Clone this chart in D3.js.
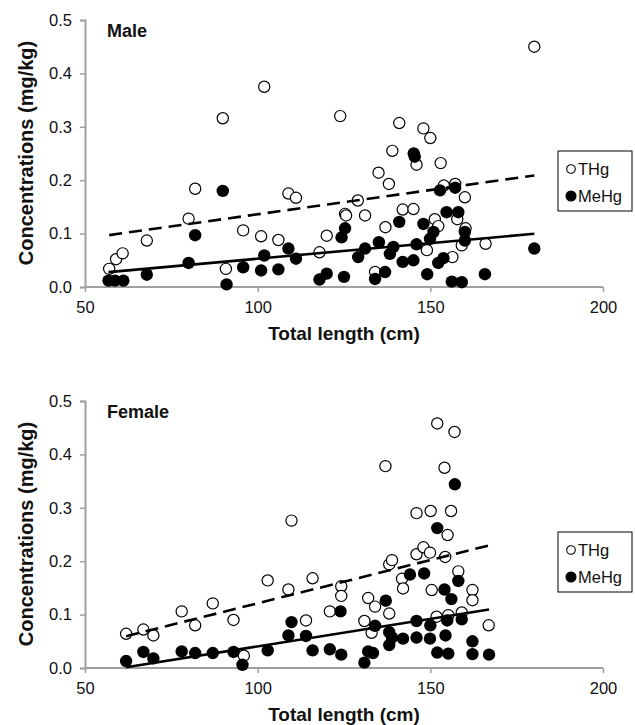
<!DOCTYPE html>
<html>
<head>
<meta charset="utf-8">
<script src="https://cdn.jsdelivr.net/npm/d3@7"></script>
<style>
  body { margin: 0; background: #fff; }
  svg text { font-family: "Liberation Sans", Arial, sans-serif; fill: #111; }
</style>
</head>
<body>
<svg width="635" height="725"></svg>
<script>
// [total length (cm), concentration (mg/kg)]
var maleTHg = [
  [57.0,0.034],[59.0,0.052],[60.9,0.063],[67.9,0.087],[80.0,0.128],[81.9,0.184],
  [89.9,0.316],[90.8,0.034],[95.8,0.106],[101.0,0.095],[101.9,0.375],[106.0,0.088],
  [108.9,0.175],[111.1,0.167],[117.9,0.065],[120.0,0.096],[123.9,0.320],[125.3,0.137],
  [125.6,0.134],[129.0,0.162],[131.1,0.134],[134.0,0.028],[135.0,0.214],[137.0,0.112],
  [138.0,0.193],[139.0,0.255],[141.0,0.307],[142.0,0.145],[145.1,0.146],[146.0,0.229],
  [148.0,0.297],[149.0,0.069],[150.0,0.279],[151.3,0.127],[152.3,0.114],[153.0,0.232],
  [153.9,0.190],[156.4,0.056],[157.2,0.193],[157.8,0.127],[159.1,0.078],[160.0,0.168],
  [160.2,0.110],[166.0,0.081],[180.1,0.450]
];
var maleMeHg = [
  [56.8,0.012],[58.7,0.012],[61.1,0.012],[67.9,0.023],[80.0,0.045],[81.9,0.097],
  [89.9,0.180],[91.0,0.005],[95.8,0.037],[101.0,0.031],[101.9,0.059],[106.0,0.033],
  [108.9,0.072],[111.1,0.053],[117.9,0.014],[120.0,0.025],[124.3,0.093],[125.0,0.019],
  [125.3,0.110],[129.1,0.056],[131.1,0.072],[134.0,0.015],[135.1,0.084],[136.9,0.028],
  [138.3,0.062],[139.3,0.075],[141.0,0.122],[142.0,0.047],[145.1,0.050],[145.2,0.250],
  [145.5,0.244],[146.0,0.080],[148.0,0.118],[149.1,0.024],[149.9,0.090],[150.9,0.103],
  [152.3,0.045],[152.8,0.181],[153.8,0.054],[154.7,0.140],[156.2,0.010],[157.2,0.186],
  [158.1,0.140],[159.1,0.009],[160.0,0.087],[160.0,0.103],[165.8,0.024],[180.1,0.072]
];
var femaleTHg = [
  [61.9,0.064],[66.9,0.072],[69.8,0.061],[78.0,0.106],[81.9,0.080],[87.0,0.121],
  [93.0,0.090],[96.0,0.023],[102.9,0.164],[108.9,0.147],[109.8,0.276],[114.0,0.089],
  [115.9,0.168],[120.9,0.106],[124.2,0.153],[124.2,0.135],[130.9,0.088],[132.0,0.131],
  [133.0,0.066],[134.0,0.115],[137.0,0.378],[138.1,0.102],[138.1,0.194],[138.9,0.202],
  [141.8,0.167],[142.1,0.149],[146.0,0.290],[146.0,0.213],[148.0,0.226],[149.9,0.216],
  [150.1,0.294],[150.4,0.146],[151.8,0.096],[152.0,0.458],[154.1,0.375],[154.3,0.208],
  [155.0,0.249],[155.2,0.099],[156.0,0.294],[157.0,0.442],[158.1,0.181],[159.1,0.104],
  [162.2,0.146],[162.2,0.127],[166.9,0.080]
];
var femaleMeHg = [
  [61.9,0.013],[66.9,0.030],[69.8,0.018],[78.0,0.031],[81.9,0.028],[87.0,0.028],
  [93.0,0.030],[95.6,0.006],[102.9,0.033],[108.9,0.061],[109.8,0.086],[114.0,0.060],
  [115.9,0.033],[120.9,0.035],[124.0,0.106],[124.2,0.025],[130.9,0.010],[132.0,0.031],
  [133.4,0.028],[134.0,0.079],[137.1,0.126],[138.1,0.043],[138.1,0.067],[138.9,0.057],
  [142.1,0.055],[144.1,0.175],[146.0,0.088],[146.0,0.057],[148.2,0.177],[150.0,0.080],
  [149.9,0.055],[152.0,0.262],[152.0,0.029],[154.1,0.147],[154.4,0.061],[154.9,0.089],
  [155.2,0.027],[156.1,0.129],[157.1,0.344],[158.1,0.163],[159.1,0.091],[162.2,0.050],
  [162.2,0.026],[167.0,0.025]
];

// linear trend lines: [slope, intercept]
var maleTHgFit = [0.000907, 0.0455];
var maleMeHgFit = [0.000583, -0.0053];
var femaleTHgFit = [0.001618, -0.0406];
var femaleMeHgFit = [0.00103, -0.0625];

var xTicks = [50, 100, 150, 200];
var yTicks = [0, 0.1, 0.2, 0.3, 0.4, 0.5];
var seriesNames = ["THg", "MeHg"];
var panelTitles = ["Male", "Female"];

var svg = d3.select("svg");
var axisColor = "#a0a0a0";

var x = d3.scaleLinear().domain([50, 200]).range([85, 603]);

function drawPanel(top, title, thg, mehg, thgFit, mehgFit) {
  var y = d3.scaleLinear().domain([0, 0.5]).range([top + 267, top]);
  var g = svg.append("g");

  // axes
  var yAxis = g.append("g")
      .attr("transform", "translate(" + x(50) + ",0)")
      .call(d3.axisLeft(y).tickValues(yTicks).tickFormat(d3.format(".1f")).tickSize(5).tickPadding(8));
  var xAxis = g.append("g")
      .attr("transform", "translate(0," + y(0) + ")")
      .call(d3.axisBottom(x).tickValues(xTicks).tickSize(5).tickPadding(9));
  [xAxis, yAxis].forEach(function(a) {
    a.select(".domain").attr("stroke", axisColor).attr("stroke-width", 2);
    a.selectAll(".tick line").attr("stroke", axisColor).attr("stroke-width", 1.5);
    a.selectAll("text").attr("font-size", 16.5).attr("fill", "#111")
      .style("font-family", "'Liberation Sans', Arial, sans-serif");
  });
  xAxis.select(".domain").attr("d", "M" + x(50) + ",0H" + x(200));

  // markers
  g.append("g").selectAll("circle")
    .data(thg)
    .enter().append("circle")
      .attr("cx", function(d) { return x(d[0]); })
      .attr("cy", function(d) { return y(d[1]); })
      .attr("r", 5.6)
      .attr("fill", "#fff")
      .attr("stroke", "#000")
      .attr("stroke-width", 1.2);
  g.append("g").selectAll("circle")
    .data(mehg)
    .enter().append("circle")
      .attr("cx", function(d) { return x(d[0]); })
      .attr("cy", function(d) { return y(d[1]); })
      .attr("r", 6.2)
      .attr("fill", "#000");

  // trend lines over the data range
  function trend(data, fit, dash) {
    var ext = d3.extent(data, function(d) { return d[0]; });
    g.append("path")
      .datum(ext)
      .attr("d", d3.line()
        .x(function(v) { return x(v); })
        .y(function(v) { return y(fit[0] * v + fit[1]); }))
      .attr("fill", "none")
      .attr("stroke", "#000")
      .attr("stroke-width", 2.6)
      .attr("stroke-dasharray", dash);
  }
  trend(thg, thgFit, "13,7");
  trend(mehg, mehgFit, null);

  // labels
  g.append("text")
    .attr("x", 107).attr("y", top + 17)
    .attr("font-size", 18).attr("font-weight", "bold")
    .text(title);
  g.append("text")
    .attr("x", (x(50) + x(200)) / 2).attr("y", y(0) + 53)
    .attr("text-anchor", "middle")
    .attr("font-size", 19).attr("font-weight", "bold")
    .text("Total length (cm)");
  g.append("text")
    .attr("transform", "translate(33," + (top + 133) + ") rotate(-90)")
    .attr("text-anchor", "middle")
    .attr("font-size", 20).attr("font-weight", "bold")
    .text("Concentrations (mg/kg)");

  // legend
  var lg = g.append("g").attr("transform", "translate(558," + (top + 131) + ")");
  lg.append("rect")
    .attr("width", 74).attr("height", 60)
    .attr("fill", "#fff").attr("stroke", "#000").attr("stroke-width", 1);
  lg.selectAll("g.item")
    .data(seriesNames)
    .enter().append("g")
      .attr("class", "item")
      .attr("transform", function(d, i) { return "translate(0," + (18 + i * 27) + ")"; })
      .each(function(d, i) {
        var it = d3.select(this);
        it.append("circle")
          .attr("cx", 13).attr("cy", 0).attr("r", i === 0 ? 4.3 : 5)
          .attr("fill", i === 0 ? "#fff" : "#000")
          .attr("stroke", "#000").attr("stroke-width", 1.1);
        it.append("text")
          .attr("x", 20).attr("y", 6)
          .attr("font-size", 16.5)
          .text(d);
      });
}

drawPanel(20, panelTitles[0], maleTHg, maleMeHg, maleTHgFit, maleMeHgFit);
drawPanel(401, panelTitles[1], femaleTHg, femaleMeHg, femaleTHgFit, femaleMeHgFit);
</script>
</body>
</html>
